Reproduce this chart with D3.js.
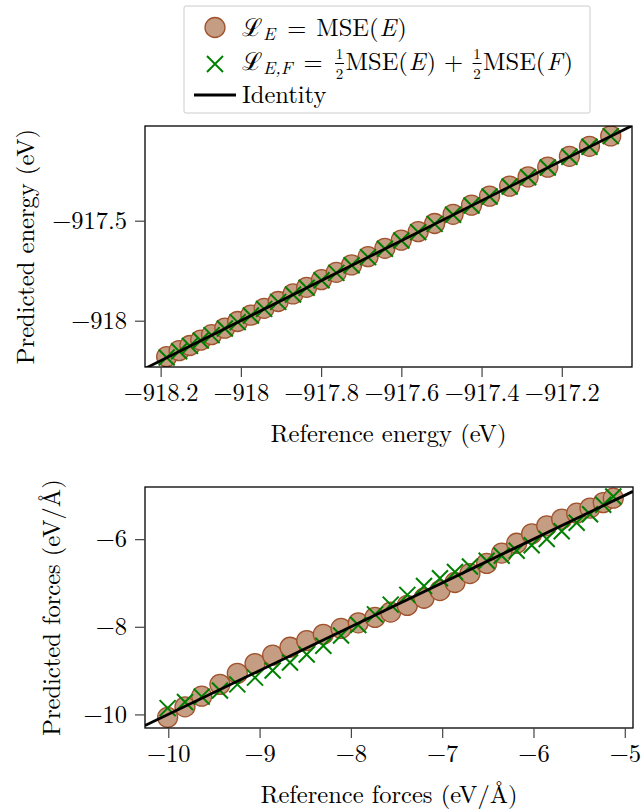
<!DOCTYPE html>
<html><head><meta charset="utf-8">
<script src="https://cdn.jsdelivr.net/npm/d3@7"></script>
<style>
body{margin:0;background:#fff}
</style>
</head><body>
<svg id="c" width="642" height="811"></svg>
<script>
// ---------------- data ----------------
const energyRef = [-918.185,-918.154,-918.127,-918.100,-918.073,-918.040,-918.008,-917.975,-917.942,-917.907,-917.870,-917.836,-917.799,-917.762,-917.724,-917.683,-917.641,-917.600,-917.558,-917.517,-917.471,-917.425,-917.380,-917.330,-917.284,-917.235,-917.181,-917.131,-917.078];
const energyPredE = [-918.180,-918.150,-918.124,-918.097,-918.070,-918.037,-918.004,-917.972,-917.938,-917.904,-917.866,-917.833,-917.795,-917.758,-917.721,-917.680,-917.638,-917.597,-917.555,-917.514,-917.468,-917.422,-917.377,-917.327,-917.281,-917.232,-917.178,-917.128,-917.076];
const energyPredEF = [-918.184,-918.153,-918.126,-918.099,-918.072,-918.039,-918.007,-917.974,-917.941,-917.906,-917.869,-917.835,-917.798,-917.761,-917.723,-917.682,-917.640,-917.599,-917.557,-917.516,-917.470,-917.424,-917.379,-917.329,-917.283,-917.234,-917.180,-917.130,-917.077];

const forceRef = [-10.007,-9.817,-9.634,-9.434,-9.244,-9.050,-8.857,-8.667,-8.484,-8.302,-8.108,-7.919,-7.736,-7.564,-7.382,-7.199,-7.024,-6.860,-6.696,-6.513,-6.348,-6.184,-6.020,-5.855,-5.691,-5.527,-5.381,-5.236,-5.126];
const forcePredE = [-10.067,-9.827,-9.584,-9.314,-9.064,-8.840,-8.647,-8.467,-8.314,-8.172,-8.038,-7.909,-7.786,-7.664,-7.512,-7.349,-7.174,-6.990,-6.786,-6.553,-6.318,-6.094,-5.880,-5.695,-5.541,-5.407,-5.291,-5.166,-5.066];
const forcePredEF = [-9.857,-9.717,-9.594,-9.454,-9.314,-9.160,-8.997,-8.817,-8.634,-8.432,-8.198,-7.959,-7.716,-7.494,-7.272,-7.069,-6.894,-6.750,-6.626,-6.493,-6.378,-6.264,-6.140,-5.995,-5.821,-5.627,-5.431,-5.216,-5.026];

const energyXDomain = [-918.239, -917.025];
const energyYDomain = [-918.2315, -917.0265];
const forceXDomain = [-10.255, -4.91];
const forceYDomain = [-10.31, -4.81];

const energyXTicks = [-918.2, -918, -917.8, -917.6, -917.4, -917.2];
const energyYTicks = [-918, -917.5];
const forceXTicks = [-10, -9, -8, -7, -6, -5];
const forceYTicks = [-10, -8, -6];

// ---------------- style ----------------
const FS = 24.5;
const FONT = "'Latin Modern Roman'";
const circFill = "#c59d83", circStroke = "#a0522d", green = "#008000";
const svg = d3.select("#c");
const fmt = v => (v < 0 ? "\u2212" : "") + (+Math.abs(v).toFixed(1));

function crossPath(cx, cy, s) {
  return `M${cx-s},${cy-s}L${cx+s},${cy+s}M${cx-s},${cy+s}L${cx+s},${cy-s}`;
}
function styleText(sel, size) {
  return sel.style("font-family", FONT).style("font-size", size + "px")
    .style("white-space", "pre").attr("fill", "#000");
}

function panel(cfg) {
  const {id, ref, pE, pEF, xD, yD, xT, yT, box, xTitle, yTitle, yTitleX} = cfg;
  const x = d3.scaleLinear().domain(xD).range([box.l, box.r]);
  const y = d3.scaleLinear().domain(yD).range([box.b, box.t]);
  const g = svg.append("g");
  g.append("clipPath").attr("id", id).append("rect")
    .attr("x", box.l).attr("y", box.t).attr("width", box.r - box.l).attr("height", box.b - box.t);
  const plot = g.append("g").attr("clip-path", `url(#${id})`);

  const dE = ref.map((r, i) => ({r, p: pE[i]}));
  const dEF = ref.map((r, i) => ({r, p: pEF[i]}));

  plot.selectAll("circle").data(dE).join("circle")
    .attr("cx", d => x(d.r)).attr("cy", d => y(d.p)).attr("r", 10)
    .attr("fill", circFill).attr("stroke", circStroke).attr("stroke-width", 1.3);

  plot.selectAll("path.x").data(dEF).join("path").attr("class", "x")
    .attr("d", d => crossPath(x(d.r), y(d.p), 8))
    .attr("fill", "none").attr("stroke", green).attr("stroke-width", 2);

  const line = d3.line().x(v => x(v)).y(v => y(v));
  plot.append("path").attr("d", line([xD[0], xD[1]]))
    .attr("stroke", "#000").attr("stroke-width", 2.8).attr("fill", "none");

  g.append("rect").attr("x", box.l).attr("y", box.t)
    .attr("width", box.r - box.l).attr("height", box.b - box.t)
    .attr("fill", "none").attr("stroke", "#000").attr("stroke-width", 1.3);

  const ax = g.append("g").attr("transform", `translate(0,${box.b})`)
    .call(d3.axisBottom(x).tickValues(xT).tickSize(10).tickPadding(7).tickFormat(fmt));
  const ay = g.append("g").attr("transform", `translate(${box.l},0)`)
    .call(d3.axisLeft(y).tickValues(yT).tickSize(10).tickPadding(8).tickFormat(fmt));
  [ax, ay].forEach(a => {
    a.attr("font-family", null).attr("font-size", null);
    a.select(".domain").remove();
    a.selectAll("line").attr("stroke", "#444").attr("stroke-width", 1.2);
    styleText(a.selectAll("text"), FS);
  });

  styleText(g.append("text").attr("x", (box.l + box.r) / 2).attr("y", box.b + 75)
    .attr("text-anchor", "middle"), FS).text(xTitle);
  styleText(g.append("text").attr("transform", `translate(${yTitleX},${(box.t + box.b) / 2}) rotate(-90)`)
    .attr("text-anchor", "middle"), FS).text(yTitle);
}

panel({id: "clipE", ref: energyRef, pE: energyPredE, pEF: energyPredEF,
  xD: energyXDomain, yD: energyYDomain, xT: energyXTicks, yT: energyYTicks,
  box: {l: 145, r: 632, t: 126, b: 367},
  xTitle: "Reference energy (eV)", yTitle: "Predicted energy (eV)", yTitleX: 34});

panel({id: "clipF", ref: forceRef, pE: forcePredE, pEF: forcePredEF,
  xD: forceXDomain, yD: forceYDomain, xT: forceXTicks, yT: forceYTicks,
  box: {l: 145, r: 633, t: 487, b: 728},
  xTitle: "Reference forces (eV/\u00C5)", yTitle: "Predicted forces (eV/\u00C5)", yTitleX: 60});

// ---------------- legend ----------------
const lg = svg.append("g");
lg.append("rect").attr("x", 184).attr("y", 6).attr("width", 406).attr("height", 107)
  .attr("rx", 2).attr("fill", "#fff").attr("stroke", "#cccccc").attr("stroke-width", 1);

lg.append("circle").attr("cx", 215).attr("cy", 27.5).attr("r", 10)
  .attr("fill", circFill).attr("stroke", circStroke).attr("stroke-width", 1.3);
lg.append("path").attr("d", crossPath(215, 64, 8)).attr("fill", "none")
  .attr("stroke", green).attr("stroke-width", 2);
lg.append("line").attr("x1", 194).attr("x2", 236).attr("y1", 95).attr("y2", 95)
  .attr("stroke", "#000").attr("stroke-width", 3);

// rich text: each part advances a cursor; p.gap adds space before the part
function rich(g, x0, y0, parts) {
  let cx = x0;
  for (const p of parts) {
    cx += p.gap || 0;
    if (p.frac) {
      const fs = 15, w = 10;
      styleText(g.append("text").attr("x", cx + w / 2).attr("y", y0 - 11).attr("text-anchor", "middle"), fs).text("1");
      styleText(g.append("text").attr("x", cx + w / 2).attr("y", y0 + 9).attr("text-anchor", "middle"), fs).text("2");
      g.append("line").attr("x1", cx + 0.5).attr("x2", cx + w - 0.5)
        .attr("y1", y0 - 6.5).attr("y2", y0 - 6.5).attr("stroke", "#000").attr("stroke-width", 1);
      cx += w + 1;
      continue;
    }
    const t = styleText(g.append("text").attr("x", cx).attr("y", y0 + (p.dy || 0)), p.size || FS)
      .style("font-style", p.it ? "italic" : "normal").text(p.t);
    cx += t.node().getComputedTextLength();
  }
  return cx;
}

rich(lg, 242, 36, [
  {t: "\u2112"}, {t: "E", it: true, size: 18, dy: 4, gap: 1},
  {t: "=", gap: 12}, {t: "MSE(", gap: 10}, {t: "E", it: true, gap: 1}, {t: ")", gap: 1}
]);
rich(lg, 242, 70, [
  {t: "\u2112"}, {t: "E,F", it: true, size: 18, dy: 4, gap: 1},
  {t: "=", gap: 11}, {frac: true, gap: 12}, {t: "MSE("}, {t: "E", it: true, gap: 1}, {t: ")", gap: 1},
  {t: "+", gap: 8}, {frac: true, gap: 9}, {t: "MSE("}, {t: "F", it: true, gap: 1}, {t: ")", gap: 1}
]);
rich(lg, 242, 103, [{t: "Identity"}]);
</script>
</body></html>
